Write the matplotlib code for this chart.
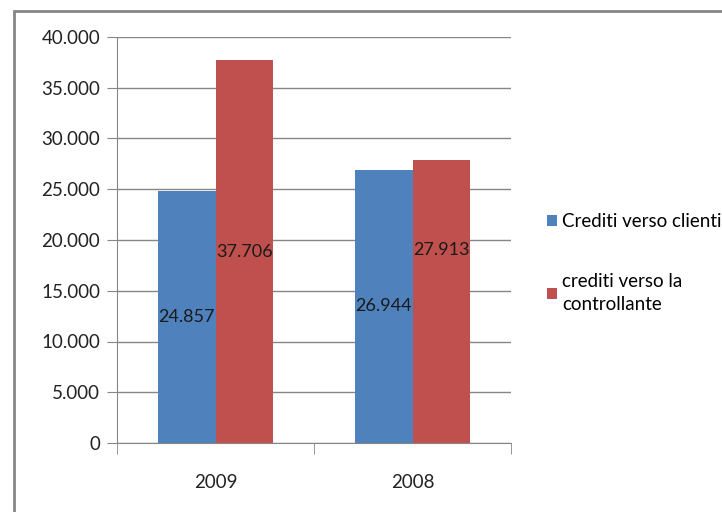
import matplotlib.pyplot as plt
from matplotlib.patches import Rectangle
import numpy as np

plt.rcParams['font.family'] = ['Liberation Sans Narrow', 'Lato', 'DejaVu Sans']

anni = ['2009', '2008']
clienti = [24857, 26944]
controllante = [37706, 27913]
serie = ['Crediti verso clienti', 'crediti verso la\ncontrollante']
yticks = [0, 5000, 10000, 15000, 20000, 25000, 30000, 35000, 40000]

blu = '#4f81bd'
rosso = '#c0504d'
grigio = '#868686'

fig = plt.figure(figsize=(7.22, 5.12), dpi=100)
# cornice esterna del grafico
fig.patches.append(Rectangle((14 / 722, -0.1), 1.2, (512 - 11) / 512 + 0.1,
                             transform=fig.transFigure, fill=False,
                             edgecolor=grigio, linewidth=2))

ax = fig.add_axes([117 / 722, 1 - 443 / 512, (511 - 117) / 722, (443 - 37) / 512])

x = np.arange(len(anni))
w = 0.29
b1 = ax.bar(x - w / 2, clienti, w, color=blu, label=serie[0], zorder=3)
b2 = ax.bar(x + w / 2, controllante, w, color=rosso, label=serie[1], zorder=3)

def fmt(v):
    return f'{v:,}'.replace(',', '.')

# etichette a meta' barra; quella rossa del 2008 alzata per non sovrapporsi
alt = [[0.5, 0.5], [0.5, 0.68]]
for k, (bars, vals) in enumerate([(b1, clienti), (b2, controllante)]):
    for i, (r, v) in enumerate(zip(bars, vals)):
        ax.text(r.get_x() + r.get_width() / 2, v * alt[k][i], fmt(v), ha='center',
                va='center', fontsize=13, color='#1a1a1a', zorder=4)

ax.set_xlim(-0.5, 1.5)
ax.set_ylim(0, 40000)
ax.set_yticks(yticks)
ax.set_yticklabels([fmt(v) for v in yticks], fontsize=13.5, color='#222222')
ax.set_xticks(x)
ax.set_xticklabels(anni, fontsize=13.5, color='#222222')
ax.set_xticks([-0.5, 0.5, 1.5], minor=True)
ax.tick_params(axis='x', which='major', length=0, pad=22)
ax.tick_params(axis='x', which='minor', length=8, color=grigio)
ax.tick_params(axis='y', length=7, color=grigio, pad=5)
ax.yaxis.grid(True, color=grigio, linewidth=1, zorder=0)
for s in ['top', 'right']:
    ax.spines[s].set_visible(False)
for s in ['left', 'bottom']:
    ax.spines[s].set_color(grigio)

leg = fig.legend(handles=[b1, b2], loc='upper left', bbox_to_anchor=(530 / 722, 1 - 196 / 512),
                 frameon=False, fontsize=13.5, handlelength=0.55, handleheight=0.55,
                 handletextpad=0.25, labelspacing=2.3)
for t in leg.get_texts():
    t.set_linespacing(1.45)

fig.savefig('out.png', dpi=100)
